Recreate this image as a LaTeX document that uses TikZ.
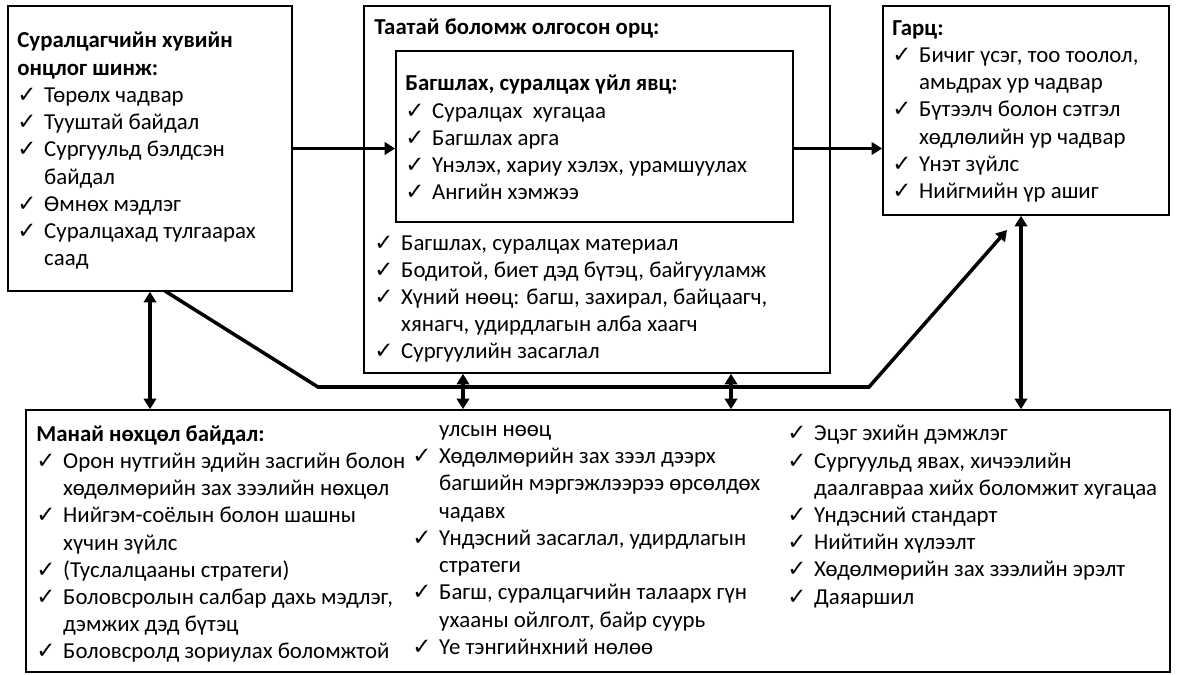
\documentclass[tikz,border=0pt]{standalone}
\usepackage{fontspec}
\setmainfont{Carlito}
\newfontfamily\symfont{DejaVu Sans}
\usetikzlibrary{arrows.meta,fit}
\newcommand{\ck}{\makebox[15.3pt][l]{\symfont\bfseries ✓}}
\newcommand{\ind}{\hspace*{15.3pt}}

\begin{document}
\begin{tikzpicture}[x=0.02cm,y=-0.02cm,
  box/.style={draw,line width=0.9pt,inner sep=0pt},
  txt/.style={anchor=north west,align=left,inner sep=0pt,font=\fontsize{13}{15.5}\selectfont},
  arr/.style={line width=2pt,-{Triangle[length=6pt,width=7pt]}},
  darr/.style={line width=2pt,{Triangle[length=6pt,width=7pt]}-{Triangle[length=6pt,width=7pt]}}]
  \useasboundingbox (0,0) rectangle (1177,675);

  % boxes
  \node[box,fit={(8,6) (292,291)}] (stud) {};
  \node[box,fit={(364,6) (830,373)}] (inp) {};
  \node[box,fit={(396,51) (793,222)}] (proc) {};
  \node[box,fit={(883,6) (1169,215)}] (outp) {};
  \node[box,fit={(26,410) (1170,672)}] (ctx) {};

  % texts
  \node[txt] (studtxt) at (17,32) {\textbf{Суралцагчийн хувийн}\\
    \textbf{онцлог шинж:}\\
    \ck Төрөлх чадвар\\
    \ck Тууштай байдал\\
    \ck Сургуульд бэлдсэн\\
    \ind байдал\\
    \ck Өмнөх мэдлэг\\
    \ck Суралцахад тулгаарах\\
    \ind саад};
  \node[txt] (inptitle) at (374,18) {\textbf{Таатай боломж олгосон орц:}};
  \node[txt] (proctxt) at (405,75) {\textbf{Багшлах, суралцах үйл явц:}\\
    \ck Суралцах\ \ хугацаа\\
    \ck Багшлах арга\\
    \ck Үнэлэх, хариу хэлэх, урамшуулах\\
    \ck Ангийн хэмжээ};
  \node[txt] (inptxt) at (374,235) {\ck Багшлах, суралцах материал\\
    \ck Бодитой, биет дэд бүтэц, байгууламж\\
    \ck Хүний нөөц: багш, захирал, байцаагч,\\
    \ind хянагч, удирдлагын алба хаагч\\
    \ck Сургуулийн засаглал};
  \node[txt] (outptxt) at (892,20) {\textbf{Гарц:}\\
    \ck Бичиг үсэг, тоо тоолол,\\
    \ind амьдрах ур чадвар\\
    \ck Бүтээлч болон сэтгэл\\
    \ind хөдлөлийн ур чадвар\\
    \ck Үнэт зүйлс\\
    \ck Нийгмийн үр ашиг};
  \node[txt] (ctxa) at (36,425) {\textbf{Манай нөхцөл байдал:}\\
    \ck Орон нутгийн эдийн засгийн болон\\
    \ind хөдөлмөрийн зах зээлийн нөхцөл\\
    \ck Нийгэм-соёлын болон шашны\\
    \ind хүчин зүйлс\\
    \ck (Туслалцааны стратеги)\\
    \ck Боловсролын салбар дахь мэдлэг,\\
    \ind дэмжих дэд бүтэц\\
    \ck Боловсролд зориулах боломжтой};
  \node[txt] (ctxb) at (412,425) {\ind улсын нөөц\\
    \ck Хөдөлмөрийн зах зээл дээрх\\
    \ind багшийн мэргэжлээрээ өрсөлдөх\\
    \ind чадавх\\
    \ck Үндэсний засаглал, удирдлагын\\
    \ind стратеги\\
    \ck Багш, суралцагчийн талаарх гүн\\
    \ind ухааны ойлголт, байр суурь\\
    \ck Үе тэнгийнхний нөлөө};
  \node[txt] (ctxc) at (787,425) {\ck Эцэг эхийн дэмжлэг\\
    \ck Сургуульд явах, хичээлийн\\
    \ind даалгавраа хийх боломжит хугацаа\\
    \ck Үндэсний стандарт\\
    \ck Нийтийн хүлээлт\\
    \ck Хөдөлмөрийн зах зээлийн эрэлт\\
    \ck Даяаршил};

  % connectors
  \coordinate (lnA) at (165,291);
  \coordinate (lnB) at (318,387);
  \coordinate (lnC) at (869,387);
  \coordinate (lnD) at (1007,230);
  \coordinate (mA) at (463,0);
  \coordinate (mB) at (731,0);
  \coordinate (mC) at (1021,0);

  \draw[arr] (stud.east) -- (proc.west |- stud.east);
  \draw[arr] (proc.east |- stud.east) -- (outp.west |- stud.east);
  \draw[darr] (stud.south) -- (ctx.north -| stud.south);
  \draw[arr] (lnA) -- (lnB) -- (lnC) -- (lnD);
  \draw[darr] (inp.south -| mA) -- (ctx.north -| mA);
  \draw[darr] (inp.south -| mB) -- (ctx.north -| mB);
  \draw[darr] (outp.south -| mC) -- (ctx.north -| mC);
\end{tikzpicture}
\end{document}
